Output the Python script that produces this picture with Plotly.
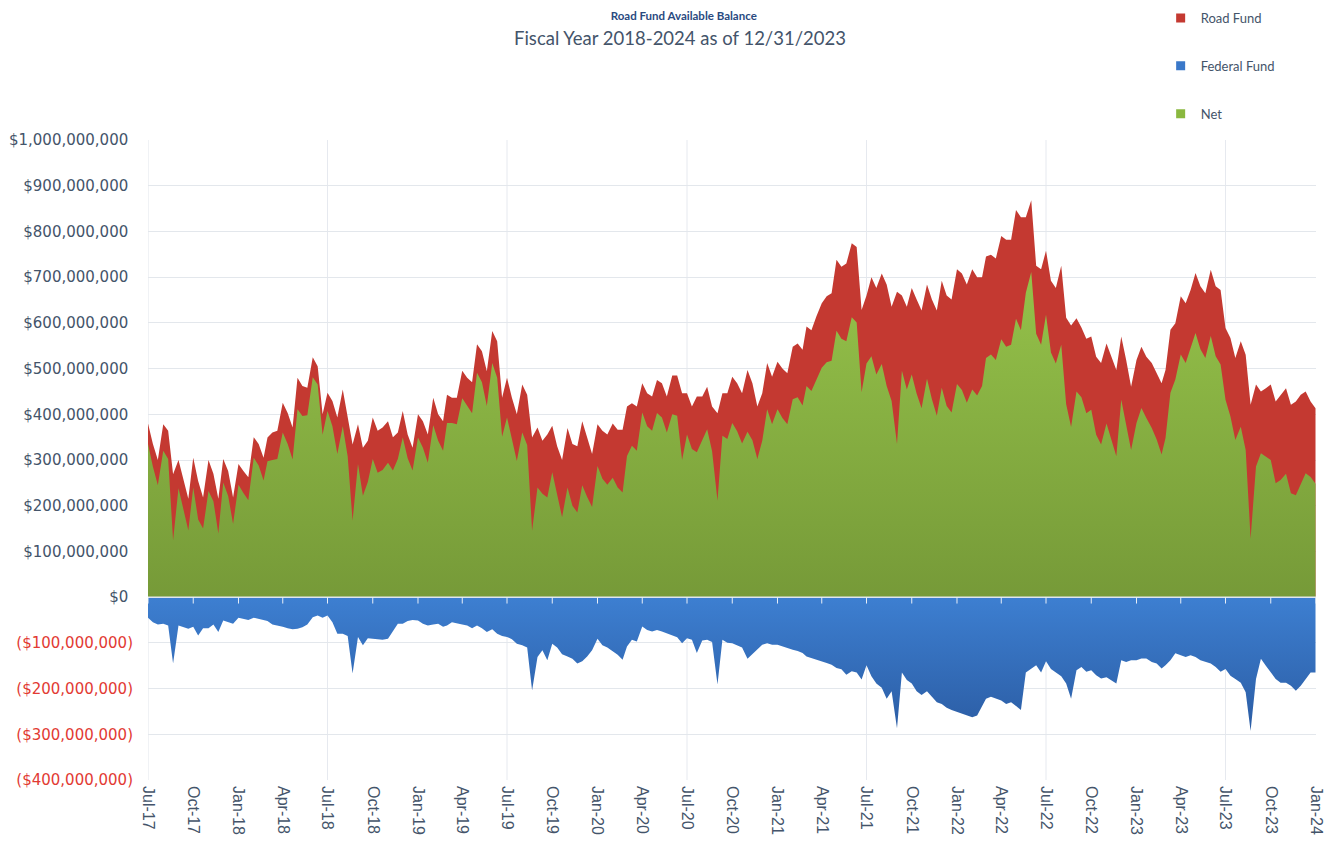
import datetime as dt
import plotly.graph_objects as go

# ---------------- data (values in $ millions, 1st/11th/21st of each month) ----------------
road_fund = [
    380, 335, 300, 378, 364, 269, 300, 255, 215, 305, 254, 218, 300, 270, 215, 302, 276, 218,  # Jul-Dec 17
    291, 276, 262, 350, 335, 305, 349, 360, 364, 425, 403, 371, 480, 462, 458, 525, 505, 400,  # Jan-Jun 18
    447, 429, 393, 454, 393, 334, 378, 327, 342, 393, 364, 371, 385, 350, 360, 407, 356, 327,  # Jul-Dec 18
    400, 385, 356, 436, 400, 385, 443, 436, 436, 495, 480, 470, 553, 538, 494, 582, 560, 436,  # Jan-Jun 19
    480, 436, 400, 465, 443, 349, 371, 342, 356, 375, 330, 300, 370, 335, 330, 385, 349, 313,  # Jul-Dec 19
    378, 364, 356, 380, 366, 366, 417, 424, 417, 468, 446, 439, 475, 468, 439, 485, 485, 446,  # Jan-Jun 20
    446, 417, 439, 439, 460, 417, 402, 446, 446, 482, 468, 446, 497, 468, 417, 446, 512, 482,  # Jul-Dec 20
    515, 500, 490, 548, 555, 541, 592, 584, 614, 643, 658, 665, 738, 723, 730, 774, 766, 628,  # Jan-Jun 21
    660, 700, 676, 708, 684, 635, 668, 660, 635, 676, 651, 627, 684, 651, 627, 692, 660, 651,  # Jul-Dec 21
    717, 708, 684, 717, 700, 700, 745, 749, 741, 790, 782, 782, 847, 831, 831, 868, 725, 717,  # Jan-Jun 22
    758, 692, 676, 725, 611, 594, 610, 590, 565, 570, 526, 512, 555, 526, 497, 570, 519, 460,  # Jul-Dec 22
    519, 548, 526, 512, 490, 468, 497, 585, 599, 658, 643, 672, 709, 680, 665, 716, 680, 672,  # Jan-Jun 23
    589, 567, 523, 560, 530, 421, 465, 450, 457, 465, 428, 443, 457, 421, 428, 443, 450, 428,  # Jul-Dec 23
    413,
]

federal_fund = [
    -45, -55, -60, -58, -62, -145, -62, -65, -69, -65, -84, -68, -68, -60, -76, -51, -55, -58,
    -45, -48, -50, -45, -47, -50, -52, -60, -62, -65, -68, -70, -69, -66, -60, -44, -40, -45,
    -40, -55, -80, -80, -85, -167, -87, -105, -90, -91, -92, -93, -91, -73, -58, -58, -52, -50,
    -51, -58, -62, -60, -58, -65, -62, -55, -58, -60, -62, -68, -62, -68, -76, -70, -80, -85,
    -87, -92, -102, -105, -110, -204, -131, -116, -138, -102, -110, -125, -130, -135, -145, -140, -130, -116,
    -91, -105, -110, -119, -126, -137, -108, -93, -97, -64, -72, -75, -72, -75, -79, -85, -88, -101,
    -90, -93, -122, -95, -93, -98, -191, -93, -100, -101, -105, -110, -135, -125, -115, -104, -101, -104,
    -104, -108, -112, -115, -118, -122, -130, -133, -137, -141, -144, -148, -155, -158, -170, -162, -165, -180,
    -149, -173, -189, -198, -222, -206, -287, -165, -181, -189, -206, -214, -206, -218, -230, -234, -242, -247,
    -251, -255, -259, -263, -259, -238, -222, -218, -222, -226, -234, -230, -238, -247, -165, -157, -149, -165,
    -140, -157, -165, -173, -189, -222, -160, -153, -163, -160, -171, -178, -175, -182, -189, -138, -142, -138,
    -138, -134, -134, -142, -145, -156, -149, -138, -123, -127, -131, -127, -131, -138, -142, -145, -153, -163,
    -157, -172, -179, -187, -208, -293, -179, -135, -150, -165, -179, -187, -187, -194, -205, -194, -179, -165,
    -165,
]

net = [
    335, 285, 245, 320, 302, 124, 238, 190, 146, 240, 170, 150, 232, 210, 139, 251, 221, 160,
    246, 228, 212, 305, 288, 255, 297, 300, 302, 360, 335, 301, 411, 396, 398, 481, 465, 355,
    407, 374, 313, 374, 308, 167, 291, 222, 252, 302, 272, 278, 294, 277, 302, 349, 304, 277,
    349, 327, 294, 376, 342, 320, 381, 381, 378, 435, 418, 402, 491, 470, 418, 512, 480, 351,
    393, 344, 298, 360, 333, 145, 240, 226, 218, 273, 220, 175, 240, 200, 185, 245, 219, 197,
    287, 259, 246, 261, 240, 229, 309, 331, 320, 404, 374, 364, 403, 393, 360, 400, 397, 300,
    356, 324, 317, 344, 367, 319, 211, 353, 346, 381, 363, 336, 362, 343, 302, 342, 411, 378,
    411, 392, 378, 433, 437, 419, 462, 451, 477, 502, 514, 517, 583, 565, 560, 612, 601, 448,
    511, 527, 487, 510, 462, 429, 335, 495, 454, 487, 445, 413, 478, 433, 397, 458, 418, 404,
    466, 453, 425, 454, 441, 462, 523, 531, 519, 564, 548, 552, 609, 584, 666, 711, 576, 552,
    618, 535, 511, 552, 422, 372, 450, 437, 402, 410, 355, 334, 380, 344, 308, 432, 377, 322,
    381, 414, 392, 370, 345, 312, 348, 447, 476, 531, 512, 545, 578, 542, 523, 571, 527, 509,
    432, 395, 344, 373, 322, 128, 286, 315, 307, 300, 249, 256, 270, 227, 223, 249, 271, 263,
    248,
]

# dates: 1st, 11th and 21st of each month, Jul-2017 .. Dec-2023, plus 31-Dec-2023
dates = []
for yr in range(2017, 2024):
    for mo in range(1, 13):
        if yr == 2017 and mo < 7:
            continue
        for d in (1, 11, 21):
            dates.append(dt.date(yr, mo, d))
dates.append(dt.date(2023, 12, 31))

y_ticks = list(range(-400, 1001, 100))  # $ millions


def money(v):
    if v == 0:
        return "$0 "
    if v > 0:
        return f"${v * 1_000_000:,} "
    return f"<span style='color:#e23a33'>(${-v * 1_000_000:,})</span>"


y_ticktext = [money(v) for v in y_ticks]

x_ticks = []
for yr in range(2017, 2025):
    for mo in (1, 4, 7, 10):
        d = dt.date(yr, mo, 1)
        if dt.date(2017, 7, 1) <= d <= dt.date(2024, 1, 1):
            x_ticks.append(d)

RED = "#c43931"
BLUE = "#3a78c9"
GREEN = "#8ab83f"
TXT = "#44546a"

fig = go.Figure()

fig.add_trace(go.Scatter(
    x=dates, y=road_fund, mode="lines", line=dict(width=0, color=RED),
    fill="tozeroy", fillcolor=RED, showlegend=False, name="Road Fund"))
fig.add_trace(go.Scatter(
    x=dates, y=net, mode="lines", line=dict(width=0, color=GREEN),
    fill="tozeroy", showlegend=False, name="Net",
    fillgradient=dict(type="vertical", colorscale=[[0, "#769a38"], [1, "#95c24a"]],
                      start=0, stop=720)))
fig.add_trace(go.Scatter(
    x=dates, y=federal_fund, mode="lines", line=dict(width=0, color=BLUE),
    fill="tozeroy", showlegend=False, name="Federal Fund",
    fillgradient=dict(type="vertical", colorscale=[[0, "#2b5ca3"], [1, "#3d7fd1"]],
                      start=-300, stop=0)))

# legend entries
for nm, col in (("Road Fund", RED), ("Federal Fund", BLUE), ("Net", GREEN)):
    fig.add_trace(go.Scatter(
        x=[None], y=[None], mode="markers", name=nm, legendgroup=nm,
        marker=dict(symbol="square", size=9, color=col)))

shapes = []
# yearly vertical gridlines (July)
for yr in range(2018, 2024):
    shapes.append(dict(type="line", xref="x", yref="paper", x0=dt.date(yr, 7, 1), x1=dt.date(yr, 7, 1),
                       y0=0, y1=1, line=dict(color="#e6e9ef", width=1), layer="below"))
shapes.append(dict(type="line", xref="x", yref="paper", x0=dt.date(2017, 7, 1), x1=dt.date(2017, 7, 1),
                   y0=0, y1=1, line=dict(color="#e2e6ec", width=1), layer="below"))
# zero line and small tick marks on it
shapes.append(dict(type="line", xref="paper", yref="y", x0=0, x1=1, y0=0, y1=0,
                   line=dict(color="#dfe6ee", width=1.5), layer="above"))
for d in x_ticks:
    shapes.append(dict(type="line", xref="x", yref="y", x0=d, x1=d, y0=0, y1=-14,
                       line=dict(color="#e9eff7", width=1), layer="above"))

# page body has an 8px margin, so the figure is 8px smaller than the window
W, H = 1325, 838
PT, PH = 132, 640  # plot top (figure px) and plot height
fig.update_layout(
    width=W, height=H, autosize=False,
    margin=dict(l=140, r=17, t=PT, b=H - PT - PH, autoexpand=False),
    paper_bgcolor="white", plot_bgcolor="white",
    title=dict(text="<b>Road Fund Available Balance</b>", x=0.51, xref="container", xanchor="center",
               y=1 - 4 / H, yref="container", yanchor="top",
               font=dict(family="Lato", size=11.5, color="#2a4a7f")),
    annotations=[dict(text="Fiscal Year 2018-2024 as of 12/31/2023", xref="paper", yref="paper",
                      x=(680 - 148) / 1168, y=(PT + PH - 30) / PH, xanchor="center", yanchor="middle",
                      showarrow=False, font=dict(family="Lato", size=18.5, color=TXT))],
    shapes=shapes,
    legend=dict(x=0.867, xanchor="left", y=1 + (PT + 5) / PH, yanchor="top",
                font=dict(family="Lato", size=13, color=TXT), tracegroupgap=28,
                itemwidth=30, bgcolor="rgba(0,0,0,0)"),
    xaxis=dict(type="date", range=[dt.date(2017, 7, 1), dt.date(2024, 1, 1)],
               tickvals=x_ticks, ticktext=[d.strftime("%b-%y") for d in x_ticks],
               tickangle=90, tickfont=dict(family="Liberation Sans", size=16, color=TXT),
               showgrid=False, zeroline=False, showline=False, ticks="", ticklabelstandoff=5),
    yaxis=dict(range=[-400, 1000], tickvals=y_ticks, ticktext=y_ticktext,
               tickfont=dict(family="DejaVu Sans", size=15, color=TXT),
               showgrid=True, gridcolor="#e3e7ec", gridwidth=1, zeroline=False,
               showline=False, ticks="", ticklabelstandoff=14),
)

fig.write_html("out.html")
